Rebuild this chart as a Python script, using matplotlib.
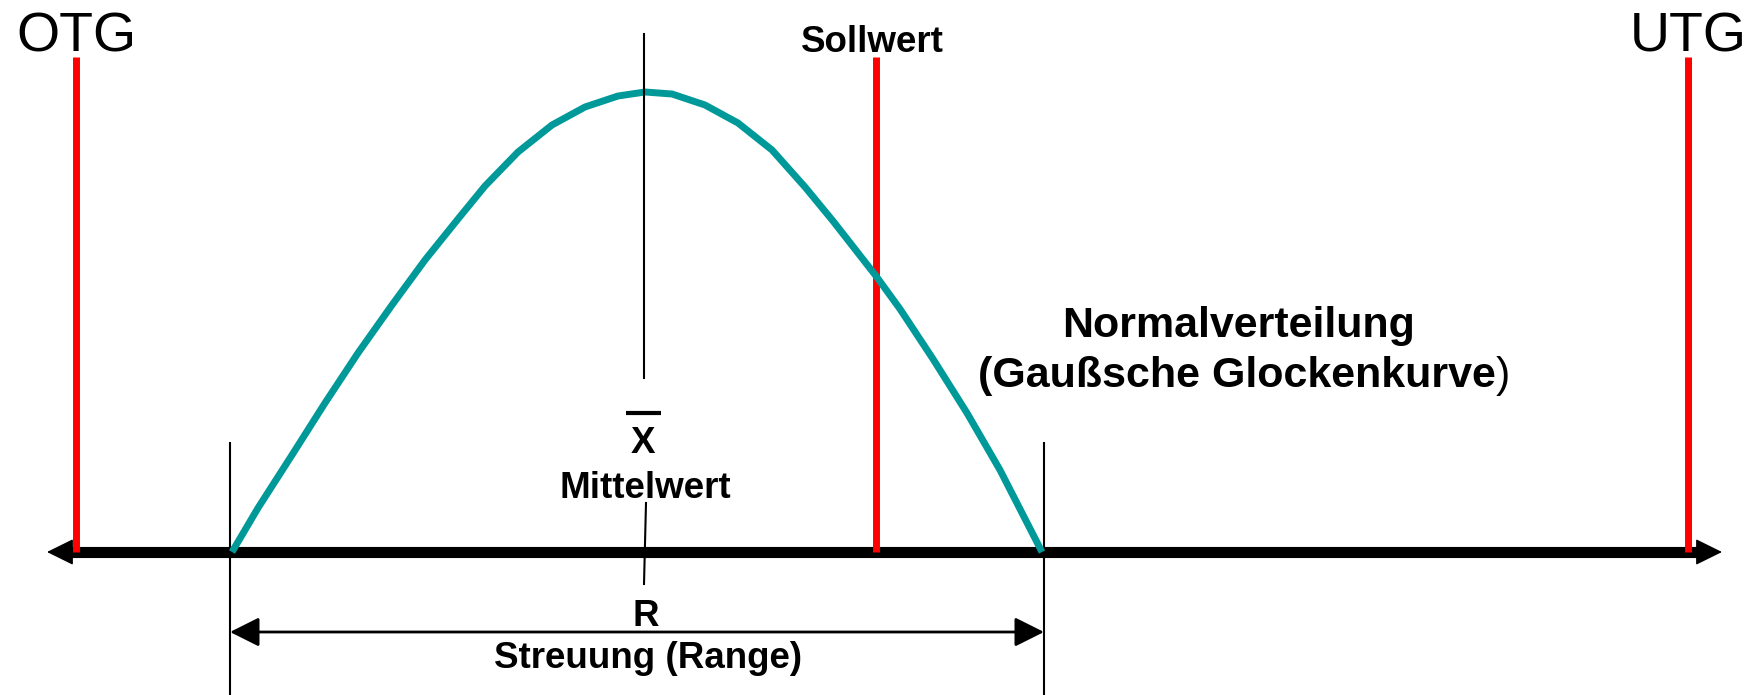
import matplotlib
matplotlib.use("Agg")
import matplotlib.pyplot as plt

# Werte (x in Pixel, Höhe über der Achse)
curve_x = [232, 258, 292, 325, 358, 392, 425, 458, 485, 518, 552, 585, 618, 645,
           672, 705, 738, 772, 805, 833, 876, 900, 933, 967, 1000, 1042]
curve_y = [0, 44, 97, 149, 199, 247, 292, 333, 366, 400, 427, 445, 456, 460,
           458, 447, 429, 402, 365, 331, 276, 243, 193, 139, 82, 0]

grenz_x = [76, 876, 1688]
grenz_namen = ["OTG", "Sollwert", "UTG"]
grenz_hoehe = 495

mittelwert_x = 644
range_links = 230
range_rechts = 1044
achse_links = 47
achse_rechts = 1722

plt.rcParams["font.family"] = ["Liberation Sans", "DejaVu Sans"]

fig = plt.figure(figsize=(17.57, 6.95), dpi=100)
ax = fig.add_axes([0, 0, 1, 1])
ax.set_xlim(0, 1757)
ax.set_ylim(-143, 552)
ax.axis("off")

# Zahlenstrahl mit Pfeilspitzen
ax.plot([achse_links + 20, achse_rechts - 20], [0, 0], color="black", lw=8,
        solid_capstyle="butt", zorder=2)
for tip, base in [(achse_links, achse_links + 24), (achse_rechts, achse_rechts - 24)]:
    ax.annotate("", xy=(tip, 0), xytext=(base, 0),
                arrowprops=dict(arrowstyle="-|>,head_length=0.85,head_width=0.42",
                                color="black", lw=1, shrinkA=0, shrinkB=0,
                                mutation_scale=20), zorder=2)

# Toleranzgrenzen und Sollwert
ax.vlines(grenz_x, 0, grenz_hoehe, color="#ff0000", lw=5, zorder=3)
ax.text(grenz_x[0], 500, grenz_namen[0], fontsize=40, ha="center", va="baseline")
ax.text(grenz_x[2], 500, grenz_namen[2], fontsize=40, ha="center", va="baseline")
ax.text(grenz_x[1] - 4, 500, grenz_namen[1], fontsize=26.5, fontweight="bold",
        ha="center", va="baseline")

# Glockenkurve
ax.plot(curve_x, curve_y, color="#009999", lw=5, solid_joinstyle="round",
        solid_capstyle="butt", zorder=4)

# Mittelwert
ax.plot([mittelwert_x, mittelwert_x], [518, 174], color="black", lw=1.5, zorder=5)
ax.plot([626, 661], [139, 139], color="black", lw=3, solid_capstyle="butt")
ax.text(mittelwert_x - 1, 99, "X", fontsize=26.5, fontweight="bold",
        ha="center", va="baseline")
ax.text(mittelwert_x + 1, 54, "Mittelwert", fontsize=26.5, fontweight="bold",
        ha="center", va="baseline")
ax.plot([646, 644], [49, -32], color="black", lw=1.5)

# Streuung
ax.vlines([range_links, range_rechts], -143, 110, color="black", lw=1.5, zorder=1)
ax.annotate("", xy=(range_links, -80), xytext=(range_rechts, -80),
            arrowprops=dict(arrowstyle="<|-|>,head_length=0.9,head_width=0.45",
                            color="black", lw=2, shrinkA=0, shrinkB=0,
                            mutation_scale=20))
ax.text(646, -74, "R", fontsize=26.5, fontweight="bold", ha="center", va="baseline")
ax.text(648, -116, "Streuung (Range)", fontsize=26.5, fontweight="bold",
        ha="center", va="baseline")

# Beschriftung Normalverteilung
ax.text(1239, 215, "Normalverteilung", fontsize=31, fontweight="bold",
        ha="center", va="baseline")
ax.text(1496, 165, "(Gaußsche Glockenkurve", fontsize=31, fontweight="bold",
        ha="right", va="baseline")
ax.text(1496, 165, ")", fontsize=31, ha="left", va="baseline")

fig.savefig("out.png", dpi=100)
